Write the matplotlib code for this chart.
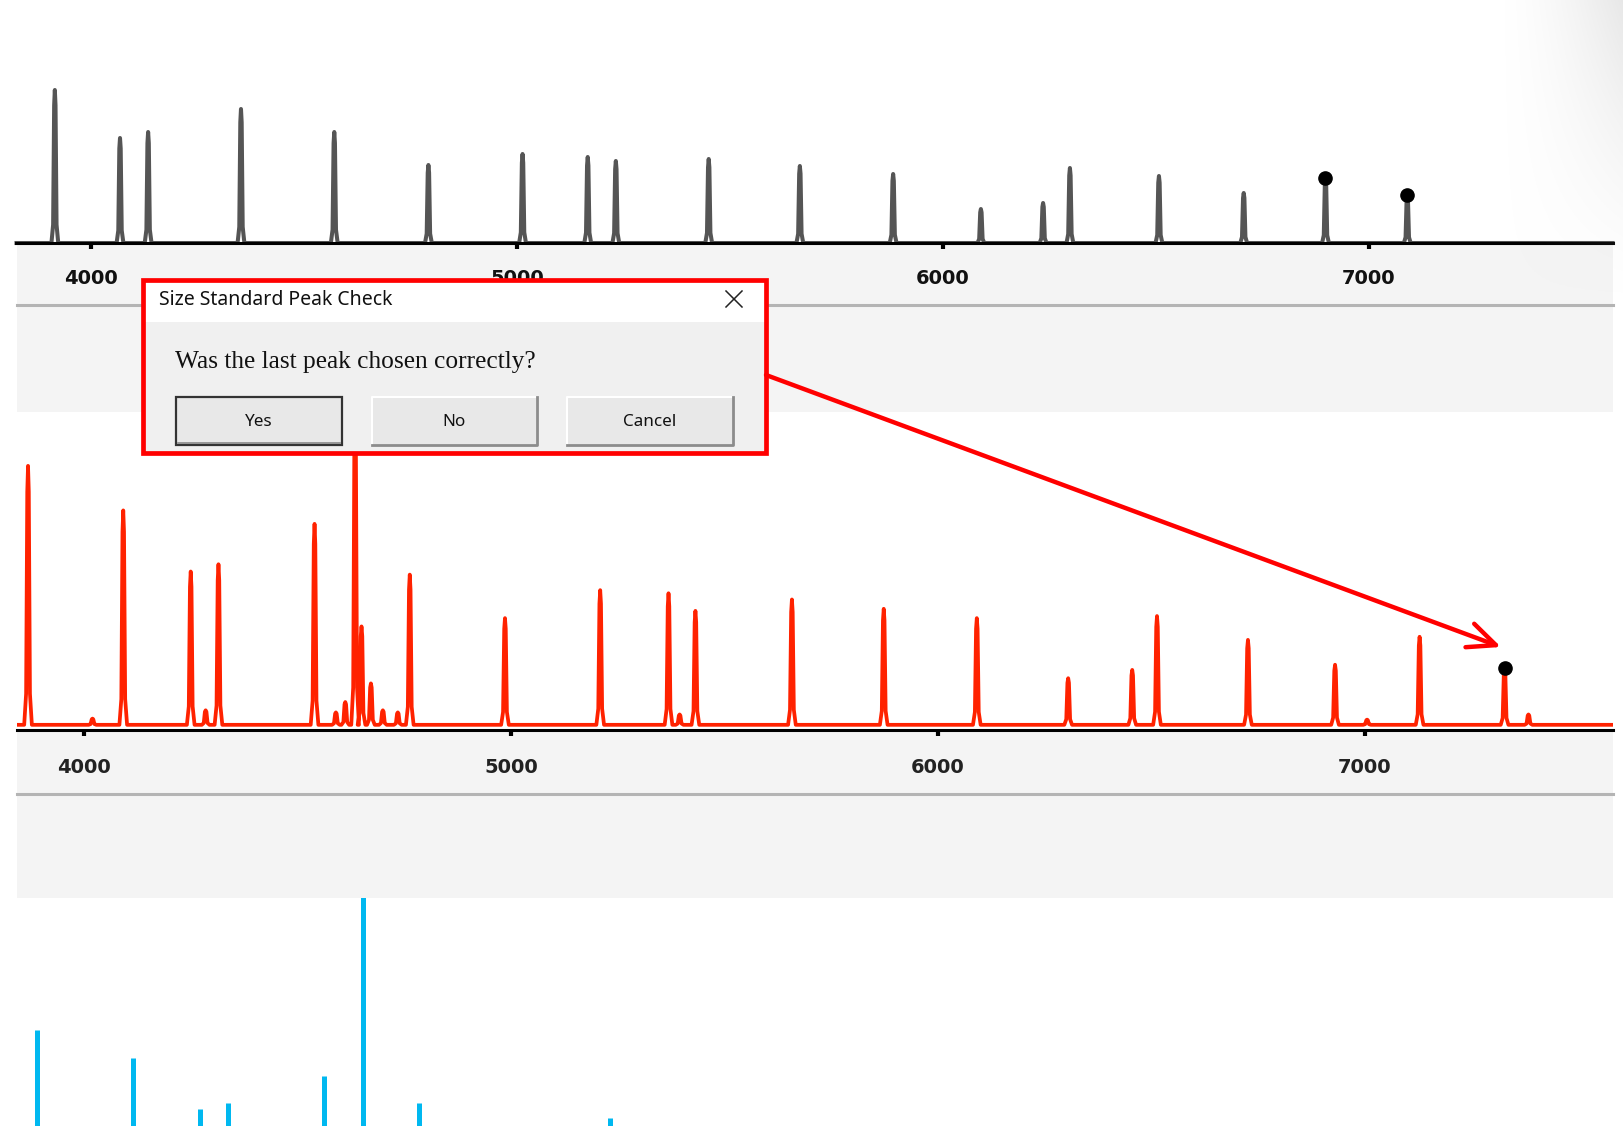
import matplotlib
matplotlib.use("Agg")
import matplotlib.pyplot as plt
import numpy as np
from matplotlib.patches import Rectangle

# ---- data ----
# top panel (grey trace): peak position (bp) and height
top_pos = [3915, 4068, 4134, 4352, 4571, 4792, 5013, 5166, 5232, 5450,
           5664, 5883, 6089, 6235, 6298, 6507, 6706, 6898, 7090]
top_hgt = [153, 105, 111, 134, 111, 78, 89, 86, 82, 84,
           77, 69, 34, 40, 75, 67, 50, 65, 48]
top_marked = [6898, 7090]

# middle panel (red trace)
mid_pos = [3869, 4092, 4250, 4315, 4540, 4635, 4763, 4986, 5209, 5369, 5432,
           5658, 5873, 6091, 6305, 6455, 6513, 6726, 6930, 7128, 7327, 7383]
mid_hgt = [250, 207, 148, 155, 194, 300, 145, 103, 130, 127, 110,
           121, 112, 103, 45, 53, 105, 82, 58, 85, 55, 10]
mid_small_pos = [4020, 4285, 4590, 4612, 4650, 4672, 4700, 4735, 5395, 7005]
mid_small_hgt = [6, 14, 12, 22, 95, 40, 14, 12, 10, 5]
mid_marked = [7327]

# bottom panel (blue trace), only the tops are visible
bot_pos = [3889, 4114, 4271, 4337, 4562, 4654, 4785, 5233]
bot_hgt = [135, 108, 58, 64, 90, 400, 64, 50]

tick_vals = [4000, 5000, 6000, 7000]

W, H = 1623, 1126
fig = plt.figure(figsize=(W / 100, H / 100), dpi=100)
fig.patch.set_facecolor("white")

# pixel-space helpers for the background bands and the dialog
bg = fig.add_axes([0, 0, 1, 1], zorder=0)
fg = fig.add_axes([0, 0, 1, 1], zorder=10)
for a in (bg, fg):
    a.set_xlim(0, W)
    a.set_ylim(H, 0)
    a.axis("off")
    a.patch.set_alpha(0)

x_left, x_right = 16.5, 1612.6
# grey strips under each trace
for y0, y1, yline in [(245, 412, 305), (732, 898, 794)]:
    bg.add_patch(Rectangle((x_left, y0), x_right - x_left, y1 - y0,
                           facecolor="#f4f4f4", edgecolor="none"))
    bg.plot([x_left, x_right], [yline, yline], color="#b4b4b4", lw=2.2)


def build_trace(pos, hgt, x0, x1, half):
    dx = np.array([-1, -0.5, -0.2, 0, 0.2, 0.5, 1]) * half
    fr = np.array([0, 0.12, 0.9, 1, 0.9, 0.12, 0])
    xs, ys = [x0], [0]
    for p, h in sorted(zip(pos, hgt)):
        xs.extend(p + dx)
        ys.extend(h * fr)
    xs.append(x1)
    ys.append(0)
    return np.array(xs), np.array(ys)


def style_axis(ax, xlim, ylim, show_ticks=True, label_color="#111111", pad=14):
    ax.set_xlim(*xlim)
    ax.set_ylim(*ylim)
    ax.set_facecolor("white")
    for s in ("left", "right", "top"):
        ax.spines[s].set_visible(False)
    ax.set_yticks([])
    if show_ticks:
        ax.spines["bottom"].set_linewidth(2.2)
        ax.spines["bottom"].set_color("black")
        ax.set_xticks(tick_vals)
        ax.set_xticklabels([str(v) for v in tick_vals])
        ax.tick_params(axis="x", direction="out", length=4, width=3,
                       color="black", pad=pad, labelsize=14,
                       labelcolor=label_color)
        for t in ax.get_xticklabels():
            t.set_fontweight("bold")
    else:
        ax.spines["bottom"].set_visible(False)
        ax.set_xticks([])


def frac(y_top, y_bot):
    return [x_left / W, 1 - y_bot / H, (x_right - x_left) / W, (y_bot - y_top) / H]


# top panel
ax1 = fig.add_axes(frac(0, 243), zorder=5)
style_axis(ax1, (3825, 7572), (0, 243), pad=14.5)
xs, ys = build_trace(top_pos, top_hgt, 3825, 7572, 8)
ax1.plot(xs, ys, color="#555555", lw=2.9, clip_on=False)
mk = [top_hgt[top_pos.index(p)] for p in top_marked]
ax1.plot(top_marked, mk, "o", color="black", ms=9.5)

# middle panel
ax2 = fig.add_axes(frac(412, 730), zorder=5)
style_axis(ax2, (3842, 7580), (-5, 302), label_color="#222222", pad=16)
xs, ys = build_trace(mid_pos + mid_small_pos, mid_hgt + mid_small_hgt,
                     3842, 7580, 9)
ax2.plot(xs, ys, color="#ff2200", lw=2.7)
mk = [mid_hgt[mid_pos.index(p)] for p in mid_marked]
ax2.plot(mid_marked, mk, "o", color="black", ms=9.5)

# bottom panel
ax3 = fig.add_axes(frac(898, H), zorder=5)
style_axis(ax3, (3842, 7580), (42, 262), show_ticks=False)
ax3.vlines(bot_pos, 0, bot_hgt, color="#00b8f0", lw=3.6)

# soft shadow at the top right corner
gx = np.linspace(0, 1, 120)
gy = np.linspace(0, 1, 120)
GX, GY = np.meshgrid(gx, gy)
alpha = (GX ** 1.5) * np.clip(1 - GY, 0, 1) ** 1.3 * 0.6
rgba = np.zeros((120, 120, 4))
rgba[..., :3] = 0.85
rgba[..., 3] = alpha
fg.imshow(rgba, extent=(1500, W, 300, 0), aspect="auto", zorder=1)
fg.set_xlim(0, W)
fg.set_ylim(H, 0)

# ---- dialog box ----
dx0, dy0, dx1, dy1 = 142.8, 279.5, 765.9, 453.3
fg.add_patch(Rectangle((dx0, dy0), dx1 - dx0, 42, facecolor="white",
                       edgecolor="none", zorder=2))
fg.add_patch(Rectangle((dx0, dy0 + 42), dx1 - dx0, dy1 - dy0 - 42,
                       facecolor="#f0f0f0", edgecolor="none", zorder=2))
fg.add_patch(Rectangle((dx0, dy0), dx1 - dx0, dy1 - dy0, facecolor="none",
                       edgecolor="#ff0000", lw=3.4, zorder=6))
ui_font = ["Noto Sans", "DejaVu Sans"]
fg.text(159, 300, "Size Standard Peak Check", fontsize=14, family=ui_font,
        va="center", ha="left", color="#111111", zorder=3)
fg.plot([726, 742], [291, 307], color="#222222", lw=1.1, zorder=3)
fg.plot([726, 742], [307, 291], color="#222222", lw=1.1, zorder=3)
fg.text(175, 362, "Was the last peak chosen correctly?", fontsize=18.3,
        family=["Liberation Serif", "DejaVu Serif"], va="center", ha="left",
        color="#111111", zorder=3)

buttons = [("Yes", 176, True), ("No", 371.6, False), ("Cancel", 567, False)]
bw, by0, by1 = 165.6, 397, 445
for label, bx, default in buttons:
    fg.add_patch(Rectangle((bx, by0), bw, by1 - by0, facecolor="#e8e8e8",
                           edgecolor="none", zorder=3))
    if default:
        fg.add_patch(Rectangle((bx, by0), bw, by1 - by0, facecolor="none",
                               edgecolor="#333333", lw=1.6, zorder=4))
        fg.plot([bx + 2, bx + bw - 2], [by1 - 2, by1 - 2], color="#888888",
                lw=1.2, zorder=4)
    else:
        fg.plot([bx, bx, bx + bw], [by1, by0, by0], color="white", lw=1.5,
                zorder=4)
        fg.plot([bx, bx + bw, bx + bw], [by1, by1, by0], color="#8c8c8c",
                lw=2.0, zorder=4)
    fg.text(bx + bw / 2, (by0 + by1) / 2 + 1, label, fontsize=12.3,
            family=ui_font, ha="center", va="center", color="#111111",
            zorder=5)

# arrow pointing at the last marked peak
fg.annotate("", xy=(1501, 647), xytext=(766, 375),
            arrowprops=dict(arrowstyle="->,head_length=1.0,head_width=0.45",
                            color="#ff0000", lw=3.2, mutation_scale=20,
                            shrinkA=0, shrinkB=0),
            zorder=7)

fig.savefig("out.png", dpi=100, facecolor="white")
